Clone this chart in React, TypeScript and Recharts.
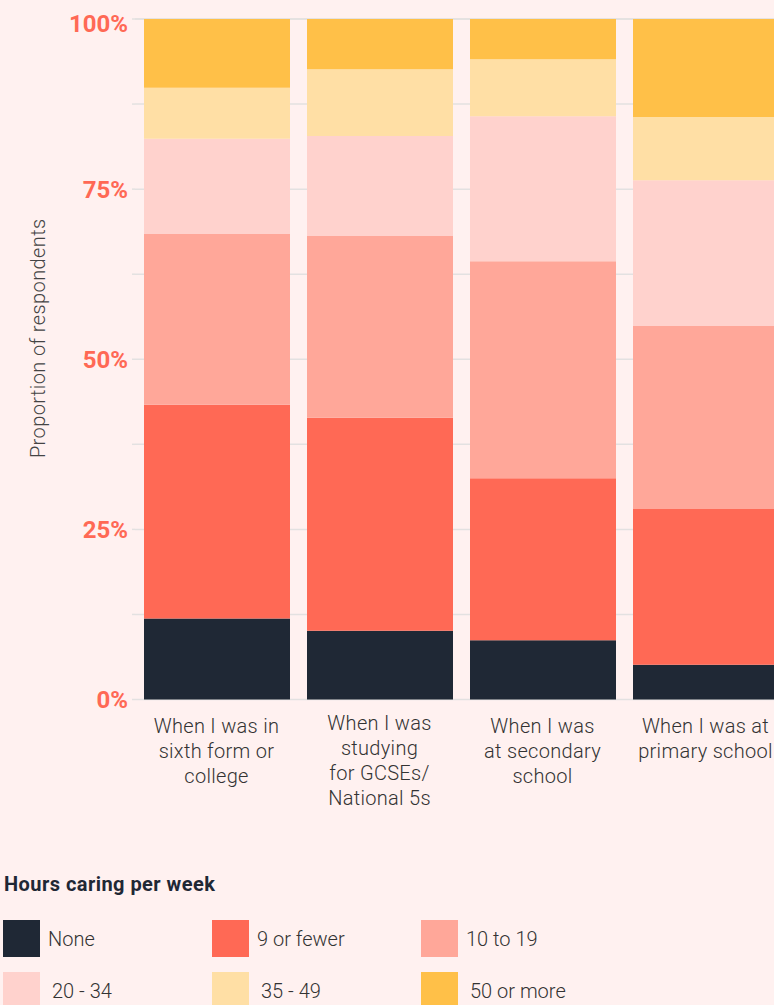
import React from 'react';
import { BarChart, Bar, XAxis, YAxis, CartesianGrid } from 'recharts';

const stages = [
  'When I was in sixth form or college',
  'When I was studying for GCSEs/ National 5s',
  'When I was at secondary school',
  'When I was at primary school',
];

// label lines for each stage, as they wrap in the reference
const stageLines = [
  ['When I was in', 'sixth form or', 'college'],
  ['When I was', 'studying', 'for GCSEs/', 'National 5s'],
  ['When I was', 'at secondary', 'school'],
  ['When I was at', 'primary school'],
];

const seriesNames = ['None', '9 or fewer', '10 to 19', '20 - 34', '35 - 49', '50 or more'];
const seriesColors = ['#1f2835', '#ff6955', '#ffa799', '#ffd2cd', '#ffdfa5', '#ffc048'];

// percent of respondents, per stage
const none = [11.9, 10.1, 8.7, 5.1];
const nineOrFewer = [31.4, 31.3, 23.8, 22.9];
const tenTo19 = [25.1, 26.7, 31.9, 26.9];
const twentyTo34 = [14.0, 14.7, 21.3, 21.4];
const thirtyFiveTo49 = [7.5, 9.8, 8.4, 9.3];
const fiftyOrMore = [10.1, 7.4, 5.9, 14.4];

const yTicks = [0, 12.5, 25, 37.5, 50, 62.5, 75, 87.5, 100];

const seriesValues = [none, nineOrFewer, tenTo19, twentyTo34, thirtyFiveTo49, fiftyOrMore];
const keys = ['s0', 's1', 's2', 's3', 's4', 's5'];

const data = stages.map((stage, i) => {
  const row: Record<string, string | number> = { stage };
  keys.forEach((k, j) => {
    row[k] = seriesValues[j][i];
  });
  return row;
});

const FONT = 'Roboto, "Noto Sans", sans-serif';
const BG = '#fff1f0';
const GRID = '#e3e1e1';

function YTick(props: any) {
  const { x, y, payload } = props;
  if (payload.value % 25 !== 0) return null;
  const shift = payload.value === 100 ? 4 : 0;
  return (
    <text
      x={x}
      y={y + shift}
      dy="0.36em"
      textAnchor="end"
      fill="#ff6955"
      fontFamily={FONT}
      fontWeight={700}
      fontSize={24}
    >
      {`${payload.value}%`}
    </text>
  );
}

function XTick(props: any) {
  const { x, y, index } = props;
  const lines = stageLines[index] || [];
  const top = index === 1 ? y + 22 : y + 25;
  return (
    <text
      textAnchor="middle"
      fill="#333333"
      fontFamily={FONT}
      fontWeight={300}
      fontSize={20}
      letterSpacing={0.3}
    >
      {lines.map((l: string, i: number) => (
        <tspan key={i} x={x} y={top + i * 25}>
          {l}
        </tspan>
      ))}
    </text>
  );
}

function YLabel(props: any) {
  const { viewBox } = props;
  const cx = viewBox.x + 38;
  const cy = viewBox.y + viewBox.height / 2 - 21;
  return (
    <text
      x={cx}
      y={cy}
      transform={`rotate(-90, ${cx}, ${cy})`}
      textAnchor="middle"
      dominantBaseline="central"
      fill="#444444"
      fontFamily={FONT}
      fontWeight={300}
      fontSize={20}
      letterSpacing={0.4}
    >
      Proportion of respondents
    </text>
  );
}

function LegendBlock() {
  return (
    <div style={{ position: 'absolute', left: 0, top: 870, width: 774, fontFamily: FONT }}>
      <div
        style={{
          position: 'absolute',
          left: 4,
          top: 2,
          fontSize: 20,
          fontWeight: 700,
          letterSpacing: 0.45,
          color: '#1f2835',
        }}
      >
        Hours caring per week
      </div>
      {seriesNames.map((name, i) => {
        const col = i % 3;
        const row = Math.floor(i / 3);
        return (
          <div
            key={name}
            style={{
              position: 'absolute',
              left: 3 + col * 209,
              top: 50 + row * 52,
              display: 'flex',
              alignItems: 'center',
            }}
          >
            <div style={{ width: 37, height: 37, background: seriesColors[i] }} />
            <span
              style={{
                marginLeft: row === 0 ? 8 : 12,
                fontSize: 20,
                fontWeight: 300,
                color: '#333333',
              }}
            >
              {name}
            </span>
          </div>
        );
      })}
    </div>
  );
}

export default function App() {
  return (
    <div
      style={{
        position: 'absolute',
        left: 0,
        top: 0,
        width: 774,
        height: 1005,
        overflow: 'hidden',
        background: BG,
      }}
    >
      <BarChart
        width={790}
        height={830}
        data={data}
        margin={{ top: 19, right: 3, left: 0, bottom: 0.5 }}
      >
        <CartesianGrid vertical={false} stroke={GRID} strokeWidth={1.5} />
        <XAxis
          dataKey="stage"
          axisLine={false}
          tickLine={false}
          height={130}
          interval={0}
          tick={<XTick />}
        />
        <YAxis
          type="number"
          domain={[0, 100]}
          ticks={yTicks}
          width={135}
          axisLine={false}
          tickSize={3}
          tickMargin={4}
          tickLine={{ stroke: GRID, strokeWidth: 1.5 }}
          tick={<YTick />}
          label={<YLabel />}
        />
        {keys.map((k, i) => (
          <Bar
            key={k}
            dataKey={k}
            name={seriesNames[i]}
            stackId="a"
            fill={seriesColors[i]}
            barSize={146}
            isAnimationActive={false}
          />
        ))}
      </BarChart>
      <LegendBlock />
    </div>
  );
}
